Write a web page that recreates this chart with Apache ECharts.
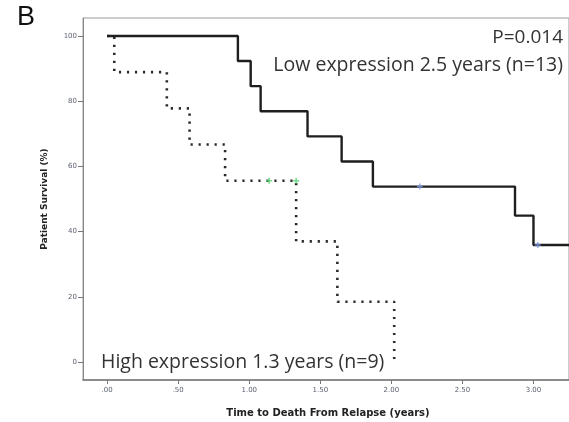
<!DOCTYPE html>
<html>
<head>
<meta charset="utf-8">
<style>
  html, body { margin: 0; padding: 0; background: #fff; }
  #chart { width: 569px; height: 422px; }
</style>
<script src="https://cdn.jsdelivr.net/npm/echarts@6/dist/echarts.min.js"></script>
</head>
<body>
<div id="chart"></div>
<script>
// Kaplan-Meier survival after relapse, by expression group
// Each point: [time of event (years), survival (%) after that event]
const lowExpression = [
  [0.00, 100], [0.92, 92.3], [1.01, 84.6], [1.08, 76.9], [1.41, 69.2],
  [1.65, 61.5], [1.87, 53.8], [2.87, 44.9], [3.00, 35.9], [3.25, 35.9]
];
const highExpression = [
  [0.00, 100], [0.05, 88.9], [0.42, 77.8], [0.58, 66.7], [0.83, 55.6],
  [1.33, 37.0], [1.62, 18.5], [2.02, 0]
];
// Censored observations
const lowCensored = [[2.20, 53.8], [3.03, 35.9]];
const highCensored = [[1.14, 55.6], [1.33, 55.6]];

const yTicks = [0, 20, 40, 60, 80, 100];
const xTicks = [0, 0.5, 1, 1.5, 2, 2.5, 3];
const xTickLabels = ['.00', '.50', '1.00', '1.50', '2.00', '2.50', '3.00'];

const chart = echarts.init(document.getElementById('chart'), null, { renderer: 'canvas' });

const axisLabelStyle = { fontFamily: 'DejaVu Sans', fontSize: 7, color: '#5a5f6e' };

chart.setOption({
  animation: false,
  backgroundColor: '#ffffff',
  grid: { left: 83, top: 18, right: -16, bottom: 42, show: true, borderColor: '#9a9a9a', borderWidth: 1, backgroundColor: 'transparent' },
  xAxis: {
    type: 'value',
    min: -0.17,
    max: 3.25,
    axisLine: { show: true, onZero: false, lineStyle: { color: '#777', width: 1.5 } },
    axisTick: { show: true, length: 4, lineStyle: { color: '#777' }, customValues: xTicks },
    splitLine: { show: false },
    axisLabel: Object.assign({
      margin: 7,
      customValues: xTicks,
      formatter: v => {
        const i = xTicks.findIndex(t => Math.abs(t - v) < 1e-6);
        return i >= 0 ? xTickLabels[i] : '';
      }
    }, axisLabelStyle)
  },
  yAxis: {
    type: 'value',
    min: -5.5,
    max: 105.5,
    axisLine: { show: true, onZero: false, lineStyle: { color: '#888', width: 1 } },
    axisTick: { show: true, length: 5, lineStyle: { color: '#777' }, customValues: yTicks },
    splitLine: { show: false },
    axisLabel: Object.assign({ margin: 6, customValues: yTicks }, axisLabelStyle),
    name: 'Patient Survival (%)',
    nameLocation: 'middle',
    nameGap: 34,
    nameRotate: 90,
    nameTextStyle: { fontFamily: 'DejaVu Sans', fontWeight: 'bold', fontSize: 9, color: '#222' }
  },
  series: [
    {
      type: 'line', step: 'end', data: lowExpression, symbol: 'none',
      lineStyle: { color: '#1e1e1e', width: 2.4 }, z: 3
    },
    {
      type: 'line', step: 'end', data: highExpression, symbol: 'none',
      lineStyle: { color: '#2a2a2a', width: 2.6, type: [2.2, 5.8], cap: 'butt' }, z: 2
    },
    {
      type: 'scatter', data: lowCensored, symbol: 'path://M-1,0L1,0M0,-1L0,1', symbolSize: 6,
      itemStyle: { color: 'transparent', borderColor: '#7a9be8', borderWidth: 1.5 }, z: 4
    },
    {
      type: 'scatter', data: highCensored, symbol: 'path://M-1,0L1,0M0,-1L0,1', symbolSize: 6,
      itemStyle: { color: 'transparent', borderColor: '#4fd06a', borderWidth: 1.5 }, z: 4
    }
  ],
  graphic: [
    { type: 'text', x: 17, y: 18, style: { text: 'B', font: '27px "Liberation Sans"', fill: '#111', verticalAlign: 'middle' } },
    { type: 'text', x: 563, y: 38, style: { text: 'P=0.014', font: '19px "Open Sans"', fill: '#333', align: 'right', verticalAlign: 'middle' } },
    { type: 'text', x: 563, y: 65, style: { text: 'Low expression 2.5 years (n=13)', font: '19.5px "Open Sans"', fill: '#333', align: 'right', verticalAlign: 'middle' } },
    { type: 'text', x: 101, y: 362, style: { text: 'High expression 1.3 years (n=9)', font: '19.5px "Open Sans"', fill: '#333', align: 'left', verticalAlign: 'middle' } },
    { type: 'text', x: 328, y: 413, style: { text: 'Time to Death From Relapse (years)', font: 'bold 10px "DejaVu Sans"', fill: '#222', align: 'center', verticalAlign: 'middle' } }
  ]
});
</script>
</body>
</html>
